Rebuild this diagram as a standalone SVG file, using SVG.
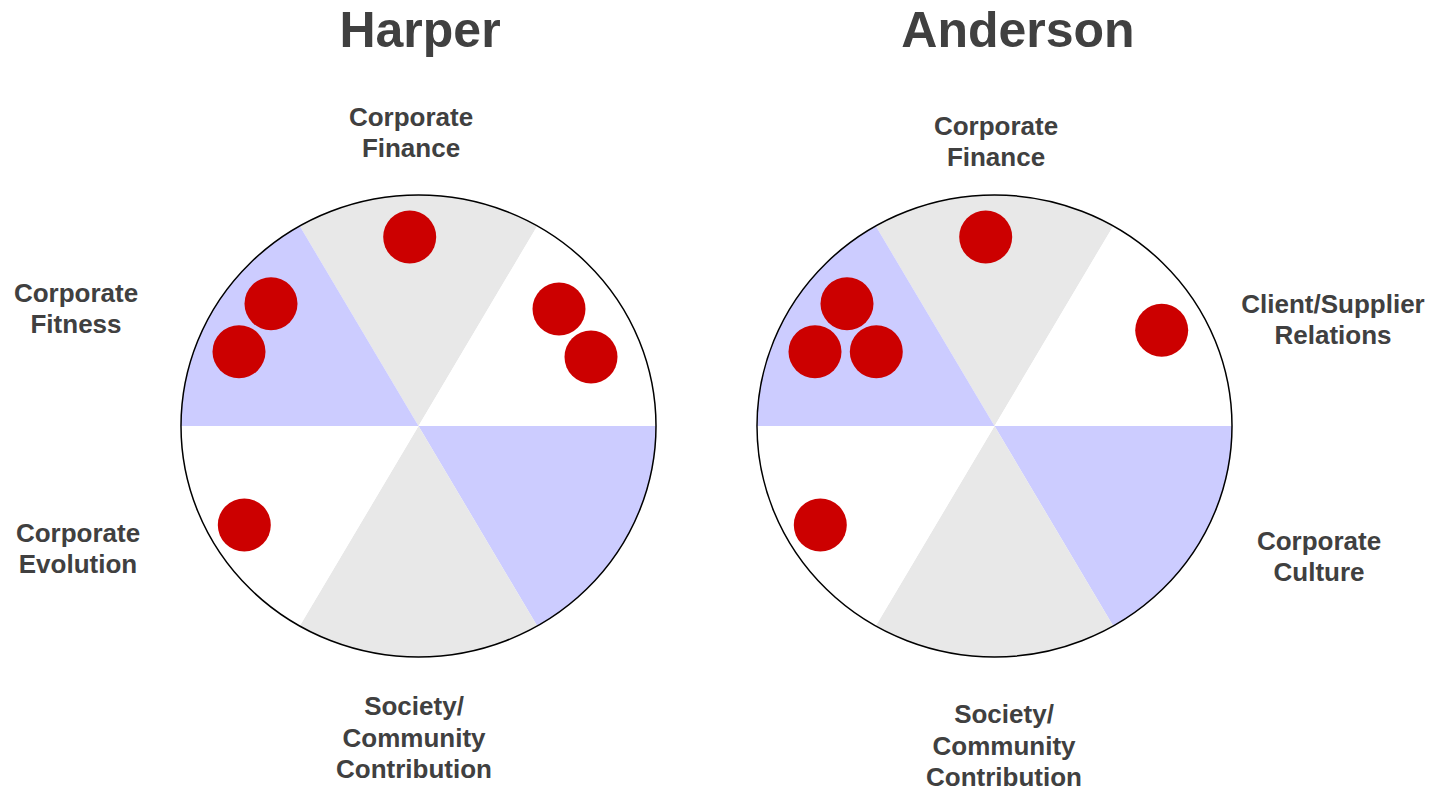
<svg xmlns="http://www.w3.org/2000/svg" width="1436" height="791" viewBox="0 0 1436 791">
  <defs>
    <style>
      .title { font-family: "Liberation Sans", Arial, sans-serif; font-weight: bold; font-size: 50px; fill: #404040; text-anchor: middle; }
      .lbl { font-family: "Liberation Sans", Arial, sans-serif; font-weight: bold; font-size: 26px; fill: #404040; text-anchor: middle; }
      .gray { fill: #e8e8e8; }
      .lav { fill: #ccccff; }
      .wht { fill: #ffffff; }
      .rim { fill: none; stroke: #000000; stroke-width: 1.5; vector-effect: non-scaling-stroke; }
      .dot { fill: #cc0000; }
    </style>
    <g id="pie">
      <path class="gray" d="M0,0 L-118.75,-205.7 A237.5,237.5 0 0 1 118.75,-205.7 Z"/>
      <path class="wht" d="M0,0 L118.75,-205.7 A237.5,237.5 0 0 1 237.5,0 Z"/>
      <path class="lav" d="M0,0 L237.5,0 A237.5,237.5 0 0 1 118.75,205.7 Z"/>
      <path class="gray" d="M0,0 L118.75,205.7 A237.5,237.5 0 0 1 -118.75,205.7 Z"/>
      <path class="wht" d="M0,0 L-118.75,205.7 A237.5,237.5 0 0 1 -237.5,0 Z"/>
      <path class="lav" d="M0,0 L-237.5,0 A237.5,237.5 0 0 1 -118.75,-205.7 Z"/>
      <circle class="rim" cx="0" cy="0" r="237.5"/>
    </g>
  </defs>
  <rect width="1436" height="791" fill="#ffffff"/>

  <g id="harper">
    <text class="title" x="420" y="47">Harper</text>
    <g id="harper-wheel">
      <use href="#pie" transform="translate(418.5,426) scale(1,0.9726)"/>
    </g>
    <g id="harper-dots">
      <circle class="dot" cx="409.7" cy="237" r="26.5"/>
      <circle class="dot" cx="271" cy="303.7" r="26.5"/>
      <circle class="dot" cx="239" cy="351.7" r="26.5"/>
      <circle class="dot" cx="559" cy="309" r="26.5"/>
      <circle class="dot" cx="591" cy="357" r="26.5"/>
      <circle class="dot" cx="244.3" cy="525" r="26.5"/>
    </g>
    <g id="harper-finance"><text class="lbl" x="411" y="126">Corporate</text><text class="lbl" x="411" y="157">Finance</text></g>
    <g id="harper-fitness"><text class="lbl" x="76" y="302">Corporate</text><text class="lbl" x="76" y="333">Fitness</text></g>
    <g id="harper-evolution"><text class="lbl" x="78" y="542">Corporate</text><text class="lbl" x="78" y="573">Evolution</text></g>
    <g id="harper-society"><text class="lbl" x="414" y="715">Society/</text><text class="lbl" x="414" y="746.5">Community</text><text class="lbl" x="414" y="778">Contribution</text></g>
  </g>

  <g id="anderson">
    <text class="title" x="1018" y="47">Anderson</text>
    <g id="anderson-wheel">
      <use href="#pie" transform="translate(994.5,426) scale(1,0.9726)"/>
    </g>
    <g id="anderson-dots">
      <circle class="dot" cx="985.7" cy="237" r="26.5"/>
      <circle class="dot" cx="847" cy="303.7" r="26.5"/>
      <circle class="dot" cx="815" cy="351.7" r="26.5"/>
      <circle class="dot" cx="876.3" cy="351.7" r="26.5"/>
      <circle class="dot" cx="1161.7" cy="330.3" r="26.5"/>
      <circle class="dot" cx="820.3" cy="525" r="26.5"/>
    </g>
    <g id="anderson-finance"><text class="lbl" x="996" y="134.5">Corporate</text><text class="lbl" x="996" y="165.5">Finance</text></g>
    <g id="anderson-client"><text class="lbl" x="1333" y="312.5">Client/Supplier</text><text class="lbl" x="1333" y="343.5">Relations</text></g>
    <g id="anderson-culture"><text class="lbl" x="1319" y="549.5">Corporate</text><text class="lbl" x="1319" y="580.5">Culture</text></g>
    <g id="anderson-society"><text class="lbl" x="1004" y="723">Society/</text><text class="lbl" x="1004" y="754.5">Community</text><text class="lbl" x="1004" y="786">Contribution</text></g>
  </g>

  <g id="connectors"></g>
</svg>
